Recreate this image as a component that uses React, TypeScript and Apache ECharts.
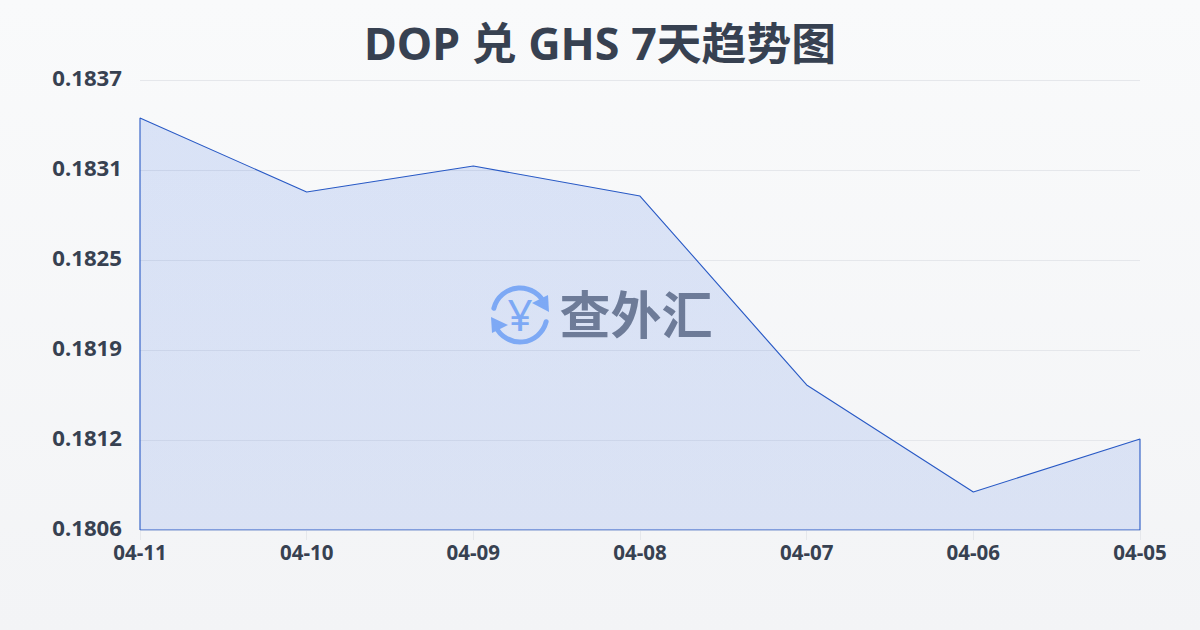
import React, { useEffect, useRef } from "react";
import * as echarts from "echarts";

const titleText = "DOP 兑 GHS 7天趋势图";
const categories = ["04-11", "04-10", "04-09", "04-08", "04-07", "04-06", "04-05"];
const rates = [0.183465, 0.182955, 0.183134, 0.182927, 0.181624, 0.180886, 0.181251];
const axisMin = 0.1806237;
const axisMax = 0.1837272;
const axisStep = 0.0006207;

const closedOutline: [number, number][] = [
  [0, axisMin],
  ...rates.map((v, i) => [i, v] as [number, number]),
  [rates.length - 1, axisMin],
  [0, axisMin],
];

const FONT = "'Noto Sans', 'Noto Sans CJK SC', sans-serif";
const TEXT = "#374151";

export default function App() {
  const ref = useRef<HTMLDivElement>(null);
  useEffect(() => {
    document.body.style.margin = "0";
    const chart = echarts.init(ref.current!, undefined, { renderer: "svg" });
    const blue = "#8ab4f8";
    chart.setOption({
      animation: false,
      backgroundColor: {
        type: "linear", x: 0, y: 0, x2: 0, y2: 1,
        colorStops: [{ offset: 0, color: "#f9fafb" }, { offset: 1, color: "#f3f4f6" }],
      },
      title: {
        text: titleText,
        left: "center",
        top: 15,
        textStyle: { fontFamily: FONT, fontSize: 44.8, fontWeight: "bold", color: TEXT },
      },
      grid: { left: 140, right: 60, top: 80, bottom: 100 },
      xAxis: {
        type: "category",
        data: categories,
        boundaryGap: false,
        axisLine: { show: false },
        axisTick: { show: true, length: 10, lineStyle: { color: "#e5e7eb" } },
        axisLabel: { fontFamily: FONT, fontSize: 20.5, fontWeight: "bold", color: TEXT, margin: 12 },
        splitLine: { show: false },
      },
      yAxis: {
        type: "value",
        min: axisMin,
        max: axisMax,
        interval: axisStep,
        axisLine: { show: false },
        axisTick: { show: false },
        axisLabel: {
          fontFamily: FONT, fontSize: 22.2, fontWeight: "bold", color: TEXT, margin: 18,
          verticalAlign: "bottom",
          lineHeight: 5,
          formatter: (v: number) => v.toFixed(4),
        },
        splitLine: { lineStyle: { color: "#e5e7eb", width: 1 } },
      },
      series: [
        {
          type: "line",
          data: closedOutline,
          symbol: "none",
          smooth: false,
          lineStyle: { color: "#2859c5", width: 1.1 },
          areaStyle: {
            opacity: 1,
            color: {
              type: "linear", x: 0, y: 0, x2: 0, y2: 1,
              colorStops: [
                { offset: 0, color: "rgba(45,100,225,0.15)" },
                { offset: 1, color: "rgba(45,100,225,0.13)" },
              ],
            },
          },
        },
      ],
      graphic: [
        {
          type: "group",
          silent: true,
          z: 100,
          children: [
            { type: "arc", shape: { cx: 520, cy: 315, r: 27, startAngle: Math.PI * 1.08, endAngle: Math.PI * 1.88, clockwise: true }, style: { stroke: blue, lineWidth: 5, fill: "none", lineCap: "round" } },
            { type: "arc", shape: { cx: 520, cy: 315, r: 27, startAngle: Math.PI * 0.08, endAngle: Math.PI * 0.86, clockwise: true }, style: { stroke: blue, lineWidth: 5, fill: "none", lineCap: "round" } },
            { type: "polygon", shape: { points: [[532, 303], [549, 312], [548, 295]] }, style: { fill: blue } },
            { type: "polygon", shape: { points: [[491, 317], [508, 325], [492, 333]] }, style: { fill: blue } },
            { type: "text", x: 520, y: 314, style: { text: "¥", fontFamily: FONT, fontSize: 44, fontWeight: "normal", fill: blue, align: "center", verticalAlign: "middle" } },
            { type: "text", x: 636, y: 312, style: { text: "查外汇", fontFamily: "'Noto Sans CJK SC', sans-serif", fontSize: 51, fontWeight: "bold", fill: "#787f8c", align: "center", verticalAlign: "middle" } },
          ],
        },
      ],
    });
    return () => chart.dispose();
  }, []);
  return <div ref={ref} style={{ width: 1200, height: 630 }} />;
}
